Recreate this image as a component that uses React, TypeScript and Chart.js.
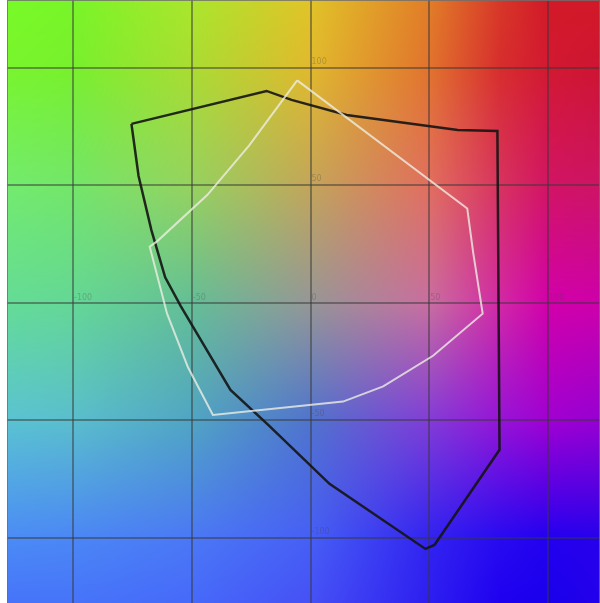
import React, { useEffect, useRef } from "react";
import { Chart, registerables } from "chart.js";

Chart.register(...registerables);

// Gamut outline (a*, b*) – outer (black) gamut
const outerA = [-75.4, -18.5, -8, 15.2, 62, 78.7, 79.6, 52.2, 48.4, 8, -17.7, -33.7, -54.7, -61.2, -67, -72.4, -75.4];
const outerB = [76.2, 90.2, 86.4, 80, 73.6, 73.2, -62.5, -103, -104.7, -77, -52, -37, -1.3, 10.9, 31, 54, 76.2];

// Inner (white) gamut
const innerA = [-5.6, 66, 68.5, 72.5, 51.6, 30.6, 13.7, -41.1, -51.6, -60.4, -67.7, -64.5, -43.5, -25.8, -5.6];
const innerB = [94.7, 40.2, 21.4, -4.6, -22.5, -35.5, -42, -47.7, -27.4, -4.6, 23.9, 26.3, 45.9, 67, 94.7];

// Axis ticks
const tickValues = [-100, -50, 0, 50, 100];
const xRange = [-127.8, 121.9];
const yRange = [-127.7, 128.9];

// Background colour field sampled on an (a*, b*) grid
const bgA = [-128, -100, -50, 0, 50, 80, 100, 122];
const bgB = [128, 100, 50, 0, -50, -100, -128];
const bgColors: number[][][] = [
  [[120, 250, 40], [120, 245, 40], [170, 230, 45], [225, 195, 40], [225, 125, 40], [215, 55, 40], [210, 25, 40], [210, 25, 40]],
  [[120, 245, 45], [120, 240, 45], [170, 220, 50], [225, 185, 45], [225, 115, 45], [215, 45, 45], [210, 25, 50], [205, 20, 50]],
  [[115, 235, 110], [115, 230, 105], [150, 210, 95], [195, 165, 90], [225, 110, 95], [215, 50, 95], [210, 20, 100], [205, 20, 100]],
  [[100, 220, 150], [100, 215, 150], [100, 190, 150], [150, 150, 150], [200, 110, 160], [210, 40, 165], [210, 0, 170], [205, 0, 170]],
  [[90, 195, 210], [90, 190, 205], [80, 165, 195], [80, 115, 205], [130, 60, 215], [150, 20, 215], [160, 0, 210], [150, 0, 210]],
  [[75, 140, 245], [75, 135, 245], [75, 120, 245], [70, 95, 245], [50, 35, 240], [40, 10, 240], [35, 0, 240], [40, 0, 235]],
  [[70, 115, 250], [70, 115, 250], [70, 105, 250], [70, 80, 245], [45, 30, 240], [30, 0, 240], [25, 0, 235], [35, 0, 235]],
];

function locate(arr: number[], v: number, desc: boolean): [number, number] {
  const n = arr.length;
  for (let i = 0; i < n - 1; i++) {
    const lo = arr[i], hi = arr[i + 1];
    const inside = desc ? v <= lo && v >= hi : v >= lo && v <= hi;
    if (inside) return [i, (v - lo) / (hi - lo)];
  }
  if (desc) return v > arr[0] ? [0, 0] : [n - 2, 1];
  return v < arr[0] ? [0, 0] : [n - 2, 1];
}

const backgroundPlugin = {
  id: "labBackground",
  beforeDraw(chart: any) {
    const { ctx, chartArea } = chart;
    const xs = chart.scales.x, ys = chart.scales.y;
    const x0 = Math.floor(chartArea.left), y0 = Math.floor(chartArea.top);
    const w = Math.ceil(chartArea.right) - x0, h = Math.ceil(chartArea.bottom) - y0;
    const img = ctx.createImageData(w, h);
    const d = img.data;
    for (let py = 0; py < h; py++) {
      const b = ys.getValueForPixel(y0 + py + 0.5);
      const [bi, bt] = locate(bgB, b, true);
      for (let px = 0; px < w; px++) {
        const a = xs.getValueForPixel(x0 + px + 0.5);
        const [ai, at] = locate(bgA, a, false);
        const c00 = bgColors[bi][ai], c01 = bgColors[bi][ai + 1];
        const c10 = bgColors[bi + 1][ai], c11 = bgColors[bi + 1][ai + 1];
        const k = (py * w + px) * 4;
        for (let ch = 0; ch < 3; ch++) {
          const top = c00[ch] + (c01[ch] - c00[ch]) * at;
          const bot = c10[ch] + (c11[ch] - c10[ch]) * at;
          d[k + ch] = top + (bot - top) * bt;
        }
        d[k + 3] = 255;
      }
    }
    ctx.putImageData(img, x0, y0);
  },
  beforeDatasetsDraw(chart: any) {
    const { ctx, chartArea } = chart;
    const xs = chart.scales.x, ys = chart.scales.y;
    const zx = xs.getPixelForValue(0), zy = ys.getPixelForValue(0);
    ctx.save();
    ctx.font = '8px "DejaVu Sans", sans-serif';
    ctx.fillStyle = "rgba(70,70,70,0.3)";
    ctx.textBaseline = "bottom";
    ctx.textAlign = "left";
    tickValues.forEach((v) => {
      ctx.fillText(String(v), xs.getPixelForValue(v) + 1, zy - 1);
    });
    tickValues.filter((v) => v !== 0).forEach((v) => {
      ctx.fillText(String(v), zx + 1, ys.getPixelForValue(v) - 2);
    });
    ctx.strokeStyle = "rgba(110,110,110,0.8)";
    ctx.lineWidth = 1;
    ctx.strokeRect(chartArea.left + 0.5, chartArea.top + 0.5, chartArea.width - 1, chartArea.height);
    ctx.restore();
  },
};

function toPoints(a: number[], b: number[]) {
  return a.map((v, i) => ({ x: v, y: b[i] }));
}

export default function App() {
  const ref = useRef<HTMLCanvasElement | null>(null);
  useEffect(() => {
    if (!ref.current) return;
    const fixTicks = (scale: any) => {
      scale.ticks = tickValues.map((v) => ({ value: v }));
    };
    const gridOpts = {
      color: "rgba(55,55,55,0.5)",
      lineWidth: 2,
      drawTicks: false,
    };
    const chart = new Chart(ref.current, {
      type: "scatter",
      data: {
        datasets: [
          {
            label: "inner",
            data: toPoints(innerA, innerB),
            showLine: true,
            borderColor: "rgba(238,238,228,0.8)",
            borderWidth: 2,
            pointRadius: 0,
            tension: 0,
          },
          {
            label: "outer",
            data: toPoints(outerA, outerB),
            showLine: true,
            borderColor: "rgba(20,20,20,0.9)",
            borderWidth: 2.5,
            pointRadius: 0,
            tension: 0,
          },
        ],
      },
      plugins: [backgroundPlugin],
      options: {
        animation: false,
        responsive: true,
        maintainAspectRatio: false,
        layout: { padding: { left: 7, right: 0, top: 0, bottom: 0 } },
        plugins: { legend: { display: false }, tooltip: { enabled: false } },
        scales: {
          x: {
            type: "linear",
            min: xRange[0],
            max: xRange[1],
            afterBuildTicks: fixTicks,
            ticks: { display: false },
            grid: gridOpts,
            border: { display: false },
          },
          y: {
            type: "linear",
            min: yRange[0],
            max: yRange[1],
            afterBuildTicks: fixTicks,
            ticks: { display: false },
            grid: gridOpts,
            border: { display: false },
          },
        },
      },
    });
    return () => chart.destroy();
  }, []);
  return (
    <div style={{ position: "absolute", left: 0, top: 0, width: 600, height: 603 }}>
      <canvas ref={ref} />
    </div>
  );
}
